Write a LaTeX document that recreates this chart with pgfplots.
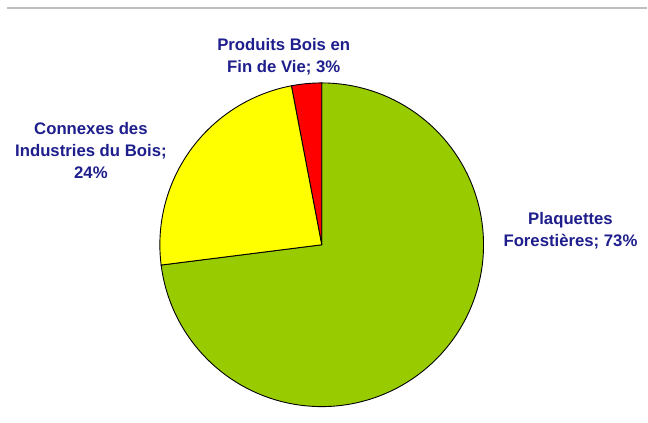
\documentclass[border=0pt]{standalone}
\usepackage{pgfplots}
\pgfplotsset{compat=1.18}
\usepackage{pgfplotstable}
\usepackage{fontspec}
\setmainfont{Liberation Sans}
\definecolor{pgreen}{RGB}{153,204,0}
\definecolor{pyellow}{RGB}{255,255,0}
\definecolor{pred}{RGB}{255,0,0}
\definecolor{lblue}{RGB}{30,30,140}
\definecolor{lgray}{RGB}{190,190,190}
% share (percent) of each slice
\pgfplotstableread{
name share
Plaquettes 73
Connexes 24
Produits 3
}\piedata
\pgfplotstablegetelem{0}{share}\of\piedata \let\sA\pgfplotsretval
\pgfplotstablegetelem{1}{share}\of\piedata \let\sB\pgfplotsretval
\pgfplotstablegetelem{2}{share}\of\piedata \let\sC\pgfplotsretval
\pgfmathsetmacro{\aGs}{90-3.6*\sA}
\pgfmathsetmacro{\aRe}{90+3.6*\sC}
\pgfmathsetmacro{\aYe}{\aRe+3.6*\sB}
\def\cx{322}\def\cy{178}\def\rr{162}
\begin{document}
\begin{tikzpicture}
\begin{axis}[
  hide axis, scale only axis,
  width=648bp, height=423bp,
  xmin=0, xmax=648, ymin=0, ymax=423,
  clip=false,
]
\path (rel axis cs:0,0) rectangle (rel axis cs:1,1);
\draw[lgray, line width=1.2bp] (axis cs:7,415) -- (axis cs:648,415);
% green slice
\addplot[fill=pgreen, draw=black, line width=0.9bp, domain=\aGs:90, samples=120, variable=\t]
  ({\cx+\rr*cos(\t)},{\cy+\rr*sin(\t)}) -- (axis cs:\cx,\cy) -- cycle;
% red slice
\addplot[fill=pred, draw=black, line width=0.9bp, domain=90:\aRe, samples=10, variable=\t]
  ({\cx+\rr*cos(\t)},{\cy+\rr*sin(\t)}) -- (axis cs:\cx,\cy) -- cycle;
% yellow slice
\addplot[fill=pyellow, draw=black, line width=0.9bp, domain=\aRe:\aYe, samples=50, variable=\t]
  ({\cx+\rr*cos(\t)},{\cy+\rr*sin(\t)}) -- (axis cs:\cx,\cy) -- cycle;
\begin{scope}[every node/.style={text=lblue, align=center, font=\bfseries\fontsize{16.8}{22}\selectfont, inner sep=0pt}]
\node at (axis cs:284,366) {Produits Bois en\\Fin de Vie; 3\%};
\node at (axis cs:91,272) {Connexes des\\Industries du Bois;\\24\%};
\node at (axis cs:571,192) {Plaquettes\\Forestières; 73\%};
\end{scope}
\end{axis}
\end{tikzpicture}
\end{document}
